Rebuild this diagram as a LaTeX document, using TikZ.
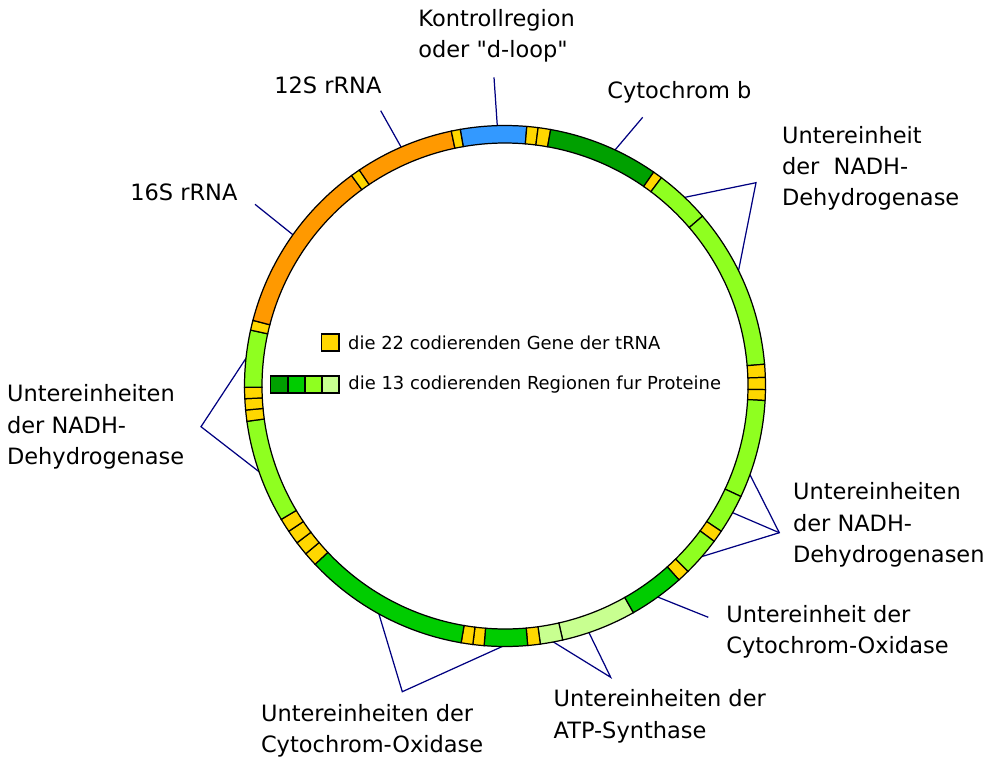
\documentclass[tikz,border=0pt]{standalone}
\usepackage{fontspec}
\setmainfont{DejaVu Sans}
\usetikzlibrary{positioning}
\definecolor{ctrlblue}{RGB}{51,153,255}
\definecolor{rrnaorange}{RGB}{255,153,0}
\definecolor{trnayellow}{RGB}{255,215,0}
\definecolor{cytbgreen}{RGB}{0,160,0}
\definecolor{coxgreen}{RGB}{0,204,0}
\definecolor{nadhgreen}{RGB}{143,255,32}
\definecolor{atpgreen}{RGB}{200,255,144}
\definecolor{leadblue}{RGB}{0,0,128}
\newcommand{\gene}[3]{\draw[seg,fill=#3] (90-#1:243) arc[start angle=90-#1,end angle=90-#2,radius=243]
  -- (90-#2:260.5) arc[start angle=90-#2,end angle=90-#1,radius=260.5] -- cycle;}

\begin{document}
\begin{tikzpicture}[
  x=0.02cm,y=0.02cm,
  seg/.style={draw=black,line width=0.7pt},
  lead/.style={draw=leadblue,line width=0.7pt},
  lbl/.style={anchor=west,inner sep=0pt,align=left,font=\fontsize{12.8}{17.9}\selectfont},
  key/.style={anchor=west,inner sep=0pt,font=\fontsize{10.2}{12}\selectfont},
  swatch/.style={draw=black,line width=0.8pt,minimum width=0.342cm,minimum height=0.34cm,inner sep=0pt,outer sep=0pt}
]
\useasboundingbox (-505,-379) rectangle (494,386);

\node[lbl] (ctrl) at (-87,350) {Kontrollregion\\oder \textquotedbl{}d-loop\textquotedbl};
\node[lbl] (rrna12) at (-231,301) {12S rRNA};
\node[lbl] (rrna16) at (-375,194) {16S rRNA};
\node[lbl] (cytb) at (102,294) {Cytochrom b};
\node[lbl] (nadhtop) at (276.7,217.7) {Untereinheit\\der~~NADH-\\Dehydrogenase};
\node[lbl] (nadhright) at (287.7,-139) {Untereinheiten\\der NADH-\\Dehydrogenasen};
\node[lbl] (coxright) at (221,-245.7) {Untereinheit der\\Cytochrom-Oxidase};
\node[lbl] (atp) at (48.3,-330.5) {Untereinheiten der\\ATP-Synthase};
\node[lbl] (coxbottom) at (-244.3,-345) {Untereinheiten der\\Cytochrom-Oxidase};
\node[lbl] (nadhleft) at (-498.3,-41) {Untereinheiten\\der NADH-\\Dehydrogenase};

\coordinate (ctrlring) at (91.7:260.5);
\coordinate (ctrltip) at (-11,308.7);
\coordinate (rrna12ring) at (113.5:260.5);
\coordinate (rrna12tip) at (-124.3,275.3);
\coordinate (rrna16ring) at (144.5:260.5);
\coordinate (rrna16tip) at (-250,181.7);
\coordinate (cytbring) at (65:260.5);
\coordinate (cytbtip) at (137.7,268.7);
\coordinate (nadhtopa) at (46.4:260.5);
\coordinate (nadhtopb) at (26.3:260.5);
\coordinate (nadhtopapex) at (251,203.3);
\coordinate (nadhrighta) at (-19.9:260.5);
\coordinate (nadhrightb) at (-29.1:260.5);
\coordinate (nadhrightc) at (-40.9:260.5);
\coordinate (nadhrightapex) at (274.3,-146.7);
\coordinate (coxrightring) at (-54.1:260.5);
\coordinate (coxrighttip) at (203.3,-231.3);
\coordinate (atpa) at (-71.2:260.5);
\coordinate (atpb) at (-79.3:260.5);
\coordinate (atpapex) at (105.7,-291.3);
\coordinate (coxbottoma) at (-90.6:260.5);
\coordinate (coxbottomb) at (-118.95:260.5);
\coordinate (coxbottomapex) at (-102.7,-305.7);
\coordinate (nadhlefta) at (199.2:260.5);
\coordinate (nadhleftb) at (173.9:260.5);
\coordinate (nadhleftapex) at (-304,-40.7);

\draw[lead] (ctrlring) -- (ctrltip);
\draw[lead] (rrna12ring) -- (rrna12tip);
\draw[lead] (rrna16ring) -- (rrna16tip);
\draw[lead] (cytbring) -- (cytbtip);
\draw[lead] (nadhtopa) -- (nadhtopapex) -- (nadhtopb);
\draw[lead] (nadhrighta) -- (nadhrightapex) -- (nadhrightc);
\draw[lead] (nadhrightb) -- (nadhrightapex);
\draw[lead] (coxrightring) -- (coxrighttip);
\draw[lead] (atpa) -- (atpapex) -- (atpb);
\draw[lead] (coxbottoma) -- (coxbottomapex) -- (coxbottomb);
\draw[lead] (nadhlefta) -- (nadhleftapex) -- (nadhleftb);

\gene{-9.9}{4.8}{ctrlblue}
\gene{4.8}{7.3}{trnayellow}
\gene{7.3}{10.1}{trnayellow}
\gene{10.1}{34.8}{cytbgreen}
\gene{34.8}{36.9}{trnayellow}
\gene{36.9}{49.3}{nadhgreen}
\gene{49.3}{85.2}{nadhgreen}
\gene{85.2}{88.1}{trnayellow}
\gene{88.1}{90.8}{trnayellow}
\gene{90.8}{93.2}{trnayellow}
\gene{93.2}{115.1}{nadhgreen}
\gene{115.1}{123.9}{nadhgreen}
\gene{123.9}{126.6}{trnayellow}
\gene{126.6}{135.4}{nadhgreen}
\gene{135.4}{138.1}{trnayellow}
\gene{138.1}{150.5}{coxgreen}
\gene{150.5}{167.2}{atpgreen}
\gene{167.2}{172.2}{atpgreen}
\gene{172.2}{175}{trnayellow}
\gene{175}{184.6}{coxgreen}
\gene{184.6}{187.1}{trnayellow}
\gene{187.1}{189.7}{trnayellow}
\gene{189.7}{226.8}{coxgreen}
\gene{226.8}{229.9}{trnayellow}
\gene{229.9}{233}{trnayellow}
\gene{233}{236.1}{trnayellow}
\gene{236.1}{239.2}{trnayellow}
\gene{239.2}{262.2}{nadhgreen}
\gene{262.2}{264.7}{trnayellow}
\gene{264.7}{267.2}{trnayellow}
\gene{267.2}{269.7}{trnayellow}
\gene{269.7}{282.4}{nadhgreen}
\gene{282.4}{284.6}{trnayellow}
\gene{284.6}{323.9}{rrnaorange}
\gene{323.9}{326}{trnayellow}
\gene{326}{348.1}{rrnaorange}
\gene{348.1}{350.1}{trnayellow}

\node[swatch,fill=trnayellow] (keytrna) at (-174.7,43.5) {};
\node[key,right=0.18cm of keytrna] (keytrnatxt) {die 22 codierenden Gene der tRNA};
\node[swatch,fill=cytbgreen] (keyprot1) at (-225.75,1.65) {};
\node[swatch,fill=coxgreen] (keyprot2) at (-208.65,1.65) {};
\node[swatch,fill=nadhgreen] (keyprot3) at (-191.55,1.65) {};
\node[swatch,fill=atpgreen] (keyprot4) at (-174.45,1.65) {};
\node[key,right=0.18cm of keyprot4] (keyprottxt) {die 13 codierenden Regionen fur Proteine};
\end{tikzpicture}
\end{document}
